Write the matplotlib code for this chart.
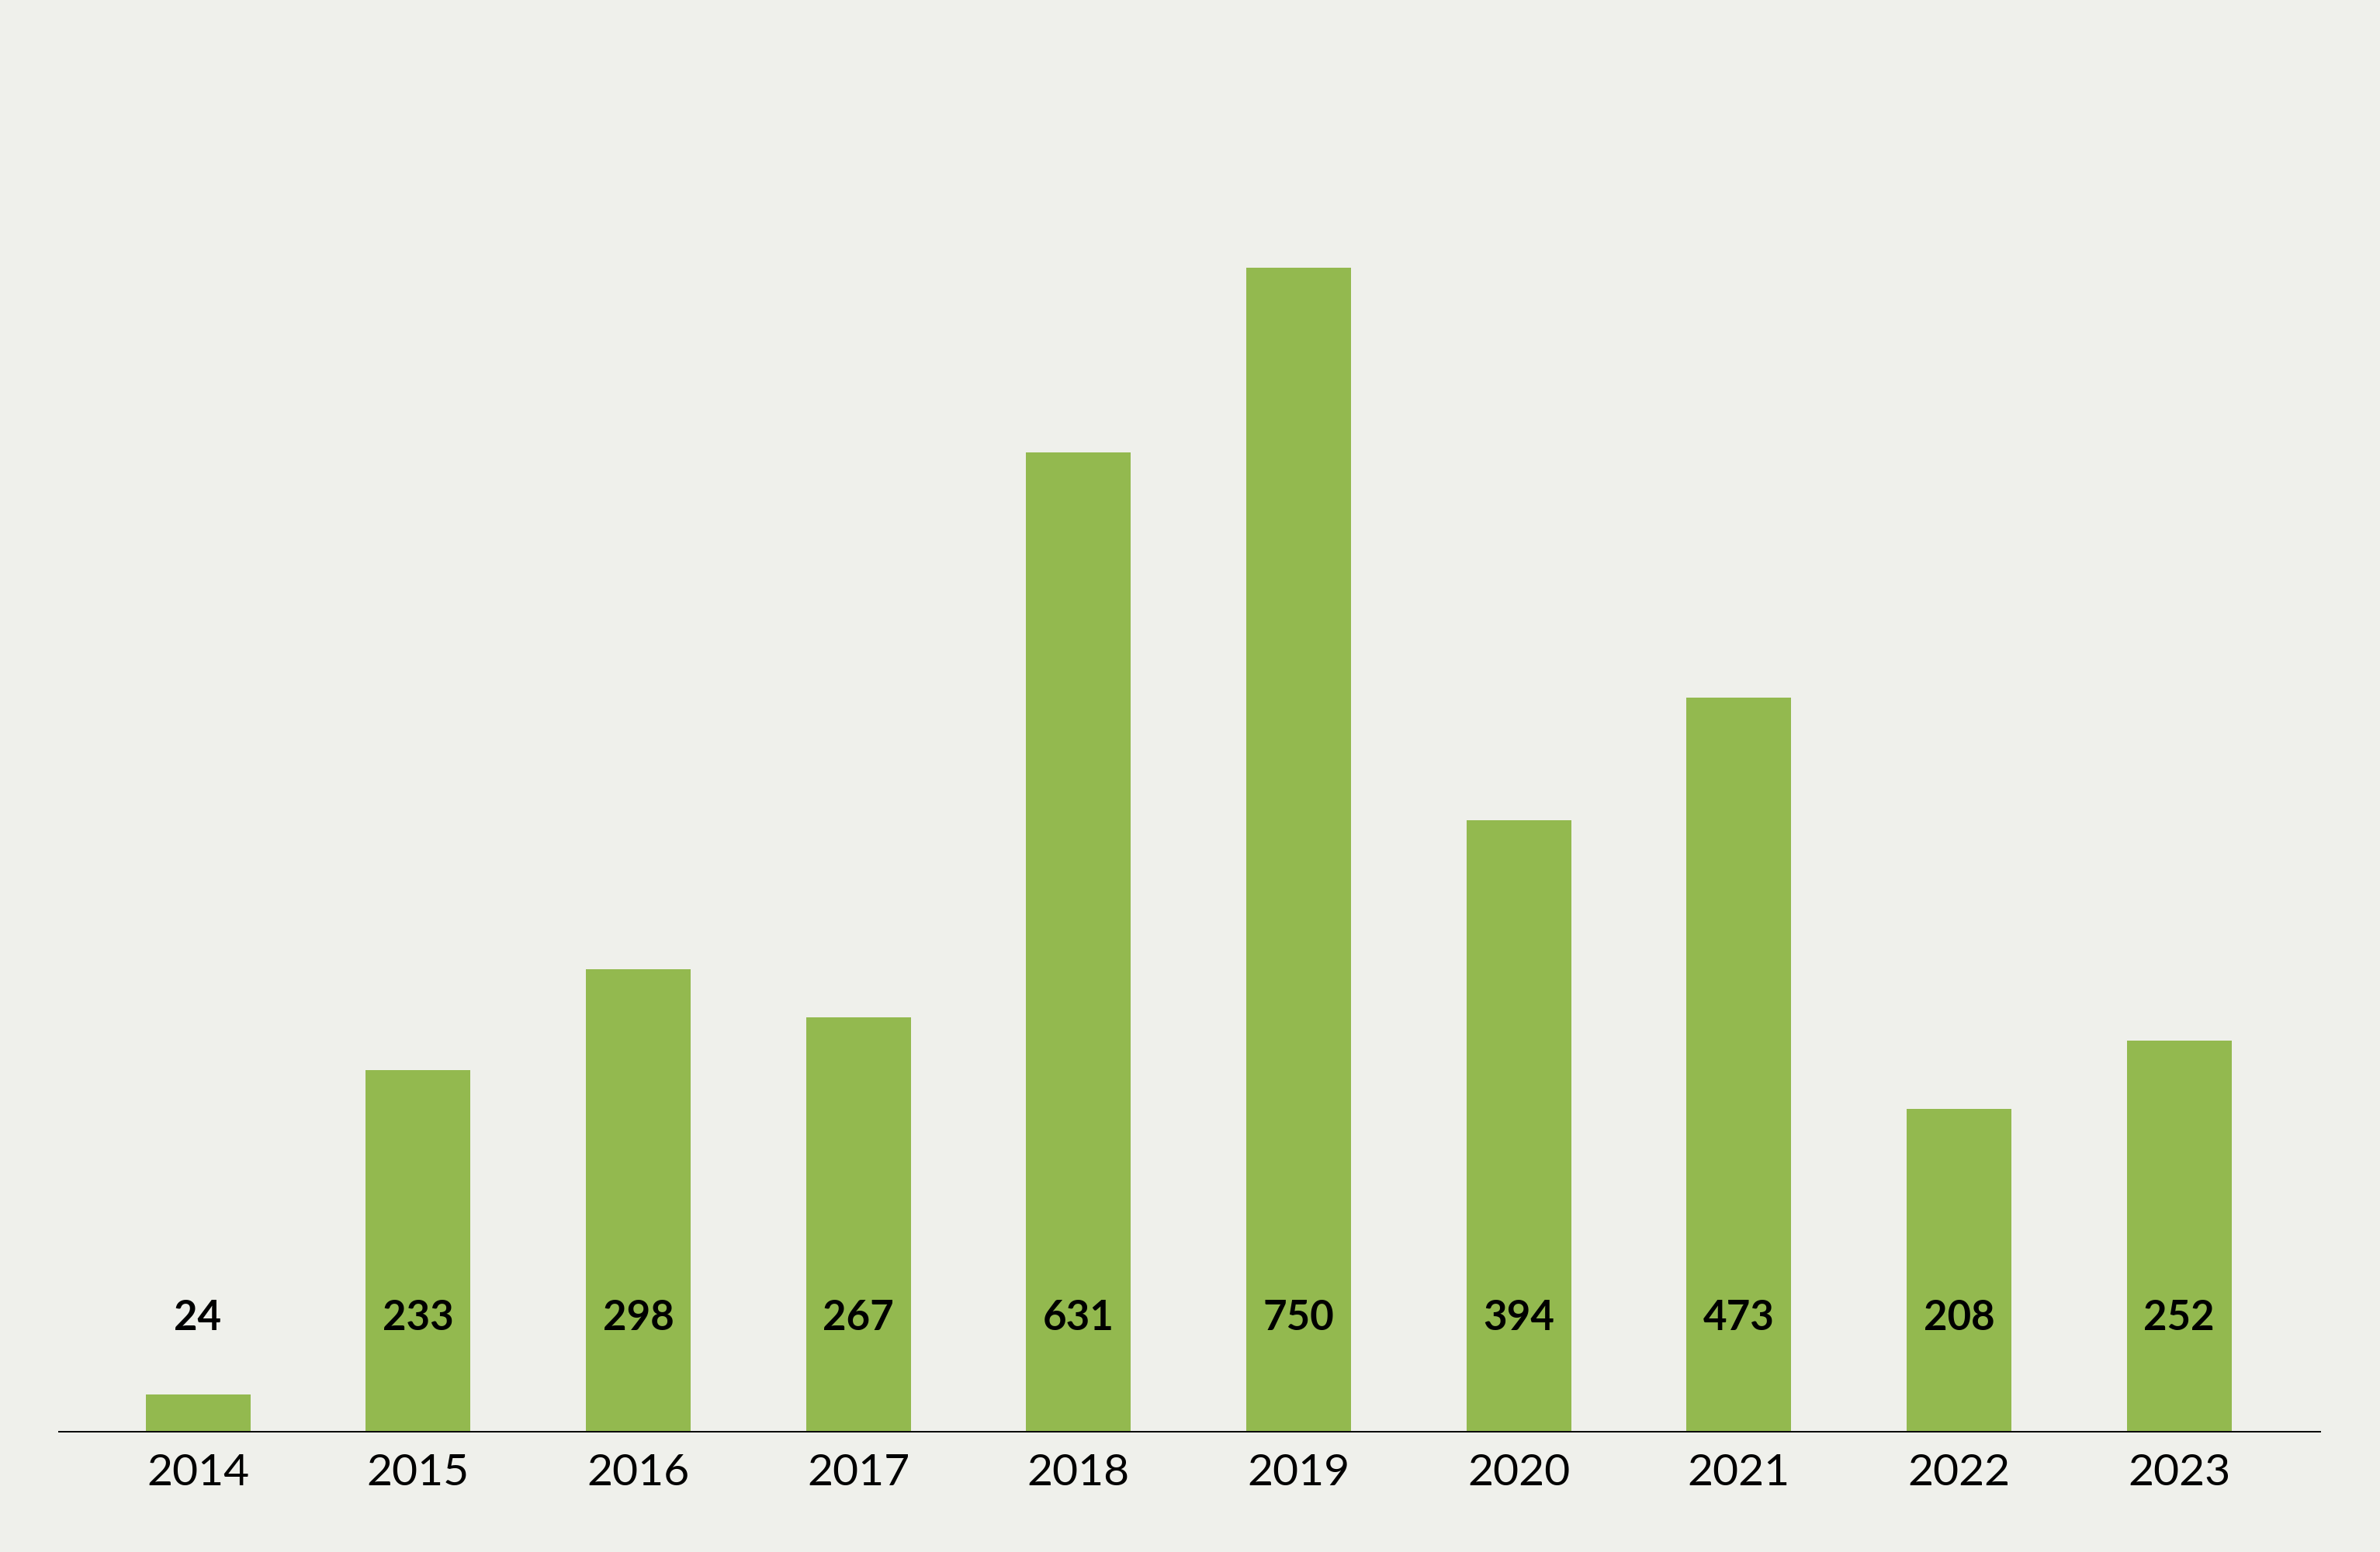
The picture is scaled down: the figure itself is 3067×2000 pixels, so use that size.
import matplotlib.pyplot as plt

years = ['2014', '2015', '2016', '2017', '2018', '2019', '2020', '2021', '2022', '2023']
values = [24, 233, 298, 267, 631, 750, 394, 473, 208, 252]

bg = '#EFF0EB'
green = '#93B94F'

plt.rcParams['font.family'] = ['Lato', 'DejaVu Sans']

fig = plt.figure(figsize=(30.67, 20), dpi=100, facecolor=bg)
ax = fig.add_axes([0.0248, 0.0775, 0.950, 0.8725], facecolor=bg)

x = list(range(len(years)))
ax.bar(x, values, width=0.476, color=green)

# value labels sit at a fixed height near the baseline
for i, v in enumerate(values):
    ax.text(i, 73, str(v), ha='center', va='center', fontsize=38,
            fontweight='bold', color='black')

ax.set_xlim(-0.631, 9.64)
ax.set_ylim(0, 872.5)
ax.set_xticks(x)
ax.set_xticklabels(years, fontsize=41)
ax.tick_params(axis='x', length=0, pad=20)
ax.set_yticks([])

for s in ['top', 'right', 'left']:
    ax.spines[s].set_visible(False)
ax.spines['bottom'].set_linewidth(1.4)
ax.spines['bottom'].set_color('black')

plt.savefig('out.png', facecolor=bg)
